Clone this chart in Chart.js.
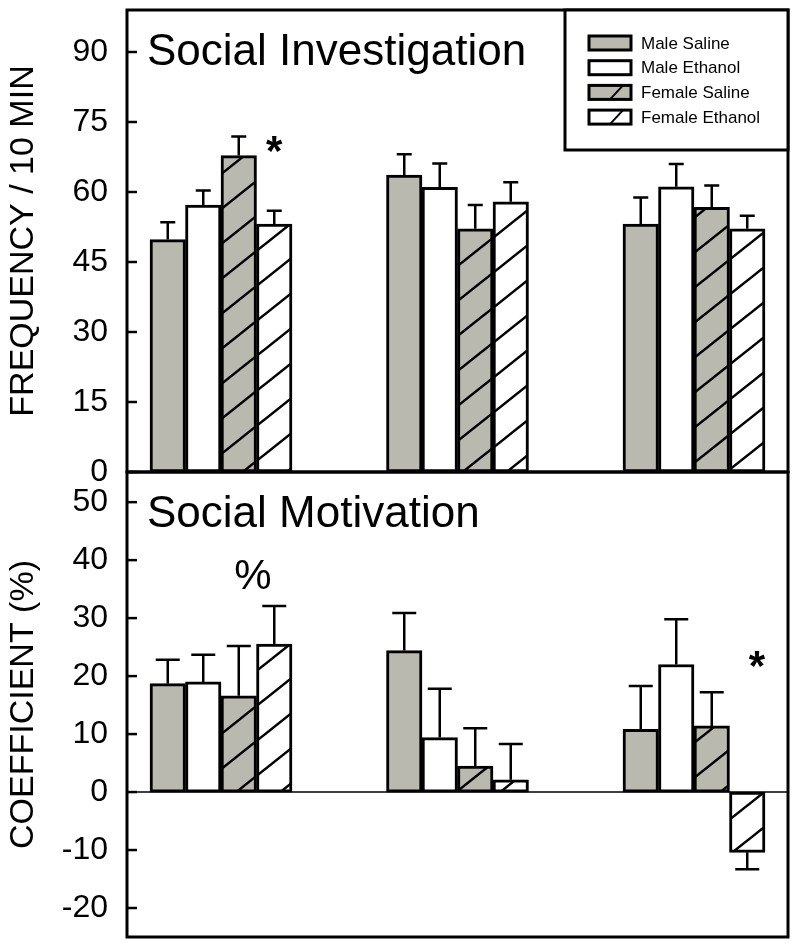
<!DOCTYPE html>
<html>
<head>
<meta charset="utf-8">
<script src="https://cdn.jsdelivr.net/npm/chart.js@4.4.0/dist/chart.umd.min.js"></script>
<style>
  body { margin: 0; background: #fff; }
  #wrap { position: relative; width: 800px; height: 948px; }
  #wrap canvas { position: absolute; left: 0; top: 0; }
</style>
</head>
<body>
<div id="wrap">
  <canvas id="topChart" width="800" height="948"></canvas>
  <canvas id="bottomChart" width="800" height="948"></canvas>
</div>
<script>
// groups sit at x = 1, 2, 3 on a linear axis
const groupPos = [1, 2, 3];
const seriesLabels = ['Male Saline', 'Male Ethanol', 'Female Saline', 'Female Ethanol'];

// Social Investigation (frequency / 10 min)
const invMaleSaline  = [49.8, 63.6, 53.1];
const invMaleEthanol = [57.2, 61.0, 61.1];
const invFemSaline   = [67.8, 52.1, 56.7];
const invFemEthanol  = [53.1, 57.9, 52.1];
const invErrMaleSaline  = [3.7, 4.5, 5.7];
const invErrMaleEthanol = [3.1, 5.1, 4.9];
const invErrFemSaline   = [4.1, 5.1, 4.7];
const invErrFemEthanol  = [2.9, 4.2, 2.8];
const invTicks = [0, 15, 30, 45, 60, 75, 90];

// Social Motivation (coefficient %)
const motMaleSaline  = [18.7, 24.4, 10.8];
const motMaleEthanol = [19.0, 9.4, 22.0];
const motFemSaline   = [16.6, 4.5, 11.4];
const motFemEthanol  = [25.5, 2.1, -10.4];
const motErrMaleSaline  = [4.1, 6.5, 7.5];
const motErrMaleEthanol = [4.7, 8.4, 7.8];
const motErrFemSaline   = [8.6, 6.5, 5.8];
const motErrFemEthanol  = [6.6, 6.2, 2.9];
const motTicks = [-20, -10, 0, 10, 20, 30, 40, 50];

// significance marks: group index, bar slot (0-3, may be fractional), value
const invMarks = [{ text: '*', group: 0, bar: 3, value: 70.2 }];
const motMarks = [
  { text: '%', group: 0, bar: 2.4, value: 37.6 },
  { text: '*', group: 2, bar: 3.27, value: 22.9 }
];

const FONT = '"Liberation Sans", Arial, sans-serif';
const GRAY = '#b9b9af';

function hatch(bg) {
  const c = document.createElement('canvas');
  c.width = 44; c.height = 35;
  const g = c.getContext('2d');
  g.fillStyle = bg;
  g.fillRect(0, 0, 44, 35);
  g.strokeStyle = '#000';
  g.lineWidth = 2.5;
  for (let k = -1; k <= 1; k++) {
    g.beginPath();
    g.moveTo(-2, 35 + k * 35 + 2 * 35 / 44);
    g.lineTo(46, k * 35 - 2 * 35 / 44);
    g.stroke();
  }
  return g.createPattern(c, 'repeat');
}

const fills = [GRAY, '#ffffff', hatch(GRAY), hatch('#ffffff')];
const swatchBg = [GRAY, '#ffffff', GRAY, '#ffffff'];

function makePanel(id, spec) {
  const datasets = spec.series.map((vals, i) => ({
    label: seriesLabels[i],
    data: vals.map((v, g) => ({ x: groupPos[g], y: v })),
    backgroundColor: fills[i],
    borderColor: '#000',
    borderWidth: 3,
    borderSkipped: false,
    barThickness: 35.5
  }));

  const decor = {
    id: 'decor',
    beforeDatasetsDraw(chart) {
      if (!spec.zeroLine) return;
      const ctx = chart.ctx, a = chart.chartArea;
      const y0 = chart.scales.y.getPixelForValue(0);
      ctx.save();
      ctx.strokeStyle = '#000';
      ctx.lineWidth = 1.5;
      ctx.beginPath();
      ctx.moveTo(a.left, y0);
      ctx.lineTo(a.right, y0);
      ctx.stroke();
      ctx.restore();
    },
    afterDatasetsDraw(chart) {
      const ctx = chart.ctx, a = chart.chartArea, ys = chart.scales.y;
      ctx.save();
      ctx.strokeStyle = '#000';
      ctx.fillStyle = '#000';

      // error bars, pointing away from zero
      ctx.lineWidth = 2.5;
      spec.errors.forEach((errs, i) => {
        chart.getDatasetMeta(i).data.forEach((bar, g) => {
          const v = spec.series[i][g];
          const ye = ys.getPixelForValue(v + (v < 0 ? -errs[g] : errs[g]));
          ctx.beginPath();
          ctx.moveTo(bar.x, bar.y);
          ctx.lineTo(bar.x, ye);
          ctx.moveTo(bar.x - spec.cap / 2, ye);
          ctx.lineTo(bar.x + spec.cap / 2, ye);
          ctx.stroke();
        });
      });

      // frame
      ctx.lineWidth = 3;
      ctx.strokeRect(a.left, a.top, a.right - a.left, a.bottom - a.top);

      // inward tick marks
      ctx.lineWidth = 2.5;
      ys.ticks.forEach(t => {
        const py = ys.getPixelForValue(t.value);
        ctx.beginPath();
        ctx.moveTo(a.left, py);
        ctx.lineTo(a.left + 10, py);
        ctx.stroke();
      });

      // panel title
      ctx.font = '44px ' + FONT;
      ctx.textAlign = 'left';
      ctx.textBaseline = 'alphabetic';
      ctx.fillText(spec.title, a.left + 20, a.top + 55);

      // significance marks
      ctx.textAlign = 'center';
      spec.marks.forEach(m => {
        const slot = Math.floor(m.bar);
        const el = chart.getDatasetMeta(slot).data[m.group];
        const px = el.x + (m.bar - slot) * el.width;
        const py = ys.getPixelForValue(m.value);
        ctx.font = m.text === '*' ? 'bold 42px ' + FONT : '42px ' + FONT;
        const mt = ctx.measureText(m.text);
        ctx.fillText(m.text, px, py + (mt.actualBoundingBoxAscent - mt.actualBoundingBoxDescent) / 2);
      });

      // legend box
      if (spec.legend) {
        const bx = a.right - 223, by = a.top, bh = 140;
        ctx.lineWidth = 3;
        ctx.fillStyle = '#fff';
        ctx.fillRect(bx, by, a.right - bx, bh);
        ctx.strokeRect(bx, by, a.right - bx, bh);
        ctx.font = '17px ' + FONT;
        ctx.textAlign = 'left';
        ctx.textBaseline = 'middle';
        seriesLabels.forEach((lab, i) => {
          const cy = by + 33 + i * 24.7;
          const sx = bx + 24, sy = cy - 7;
          ctx.fillStyle = swatchBg[i];
          ctx.fillRect(sx, sy, 42, 14);
          ctx.lineWidth = 3;
          ctx.strokeRect(sx, sy, 42, 14);
          if (i >= 2) {
            ctx.lineWidth = 2;
            ctx.beginPath();
            ctx.moveTo(sx + 21, sy + 14);
            ctx.lineTo(sx + 34, sy);
            ctx.stroke();
          }
          ctx.fillStyle = '#000';
          ctx.fillText(lab, bx + 76, cy + 1);
        });
      }
      ctx.restore();
    }
  };

  return new Chart(document.getElementById(id), {
    type: 'bar',
    data: { datasets },
    options: {
      responsive: false,
      animation: false,
      layout: { padding: spec.padding },
      plugins: { legend: { display: false }, tooltip: { enabled: false } },
      scales: {
        x: { type: 'linear', min: 0.6025, max: 3.3975, offset: false, display: false },
        y: {
          min: spec.min,
          max: spec.max,
          afterBuildTicks: s => { s.ticks = spec.ticks.map(v => ({ value: v })); },
          afterFit: s => { s.width = 127; s.paddingTop = 0; s.paddingBottom = 0; },
          grid: { display: false, drawTicks: false },
          border: { display: false },
          ticks: { color: '#000', font: { size: 32, family: FONT }, padding: 19 },
          title: {
            display: true, text: spec.yTitle, color: '#000',
            font: { size: 34, family: FONT }, padding: { top: 3, bottom: 0 }
          }
        }
      }
    },
    plugins: [decor]
  });
}

makePanel('topChart', {
  title: 'Social Investigation',
  yTitle: 'FREQUENCY / 10 MIN',
  series: [invMaleSaline, invMaleEthanol, invFemSaline, invFemEthanol],
  errors: [invErrMaleSaline, invErrMaleEthanol, invErrFemSaline, invErrFemEthanol],
  ticks: invTicks,
  marks: invMarks,
  min: 0, max: 99,
  cap: 15,
  legend: true,
  zeroLine: false,
  padding: { left: 0, top: 10, right: 12, bottom: 476 }
});

makePanel('bottomChart', {
  title: 'Social Motivation',
  yTitle: 'COEFFICIENT (%)',
  series: [motMaleSaline, motMaleEthanol, motFemSaline, motFemEthanol],
  errors: [motErrMaleSaline, motErrMaleEthanol, motErrFemSaline, motErrFemEthanol],
  ticks: motTicks,
  marks: motMarks,
  min: -25, max: 55.2,
  cap: 24,
  legend: false,
  zeroLine: true,
  padding: { left: 0, top: 472, right: 12, bottom: 11 }
});
</script>
</body>
</html>
